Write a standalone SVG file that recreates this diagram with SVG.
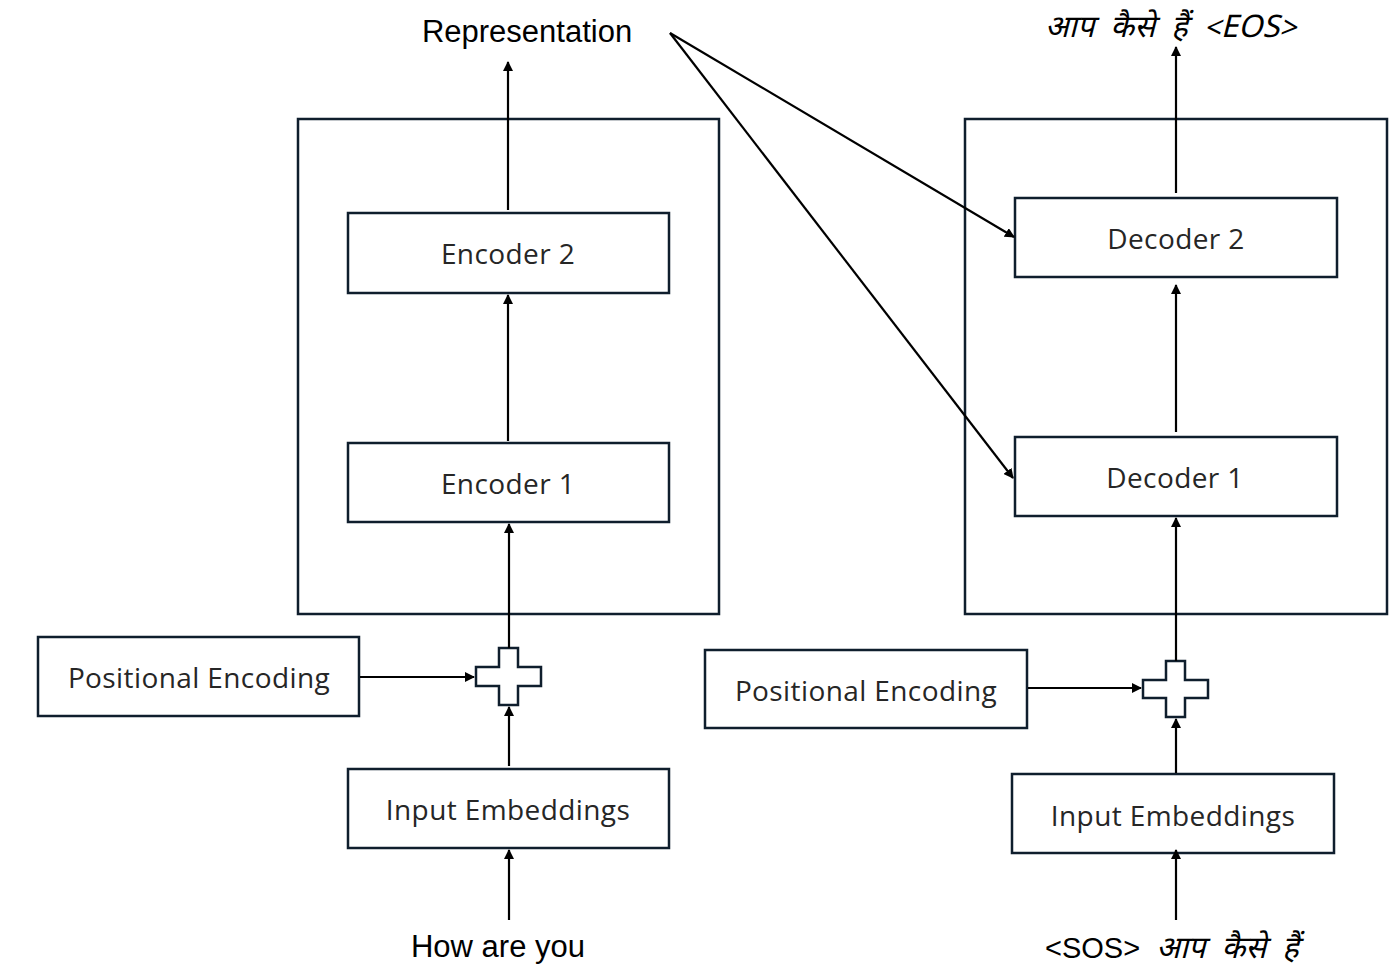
<svg xmlns="http://www.w3.org/2000/svg" width="1400" height="971" viewBox="0 0 1400 971">
<style>
.b{fill:#fff;stroke:#0f1e2d;stroke-width:2.5}
.t{font-family:"Open Sans","Noto Sans",sans-serif;font-size:28px;fill:#262626;text-anchor:middle;letter-spacing:0.4px}
.l{font-family:"Liberation Sans",Arial,sans-serif;font-size:31px;fill:#000;text-anchor:middle}
.h{font-family:"Noto Sans Devanagari","Noto Sans","Liberation Sans",sans-serif;font-style:italic;font-size:31px;fill:#000;word-spacing:8px}
.c{stroke:#000;stroke-width:2.2;fill:none;marker-end:url(#a)}
</style>
<defs><marker id="a" markerWidth="10" markerHeight="10" refX="9" refY="5" orient="auto" markerUnits="userSpaceOnUse"><path d="M0,0 L10,5 L0,10 Z" fill="#000"/></marker></defs>
<rect width="1400" height="971" fill="#fff"/>
<g id="encoder-block"><rect class="b" x="298" y="119" width="421" height="495"/></g>
<g id="decoder-block"><rect class="b" x="965" y="119" width="422" height="495"/></g>
<g id="encoder2"><rect class="b" x="348" y="213" width="321" height="80"/><text class="t" x="508" y="264">Encoder 2</text></g>
<g id="encoder1"><rect class="b" x="348" y="443" width="321" height="79"/><text class="t" x="508" y="494">Encoder 1</text></g>
<g id="posenc-left"><rect class="b" x="38" y="637" width="321" height="79"/><text class="t" x="199" y="688">Positional Encoding</text></g>
<g id="inemb-left"><rect class="b" x="348" y="769" width="321" height="79"/><text class="t" x="508" y="820">Input Embeddings</text></g>
<g id="plus-left"><path class="b" d="M499,648 H518 V667 H541 V686 H518 V705 H499 V686 H476 V667 H499 Z"/></g>
<g id="decoder2"><rect class="b" x="1015" y="198" width="322" height="79"/><text class="t" x="1176" y="249">Decoder 2</text></g>
<g id="decoder1"><rect class="b" x="1015" y="437" width="322" height="79"/><text class="t" x="1175" y="488">Decoder 1</text></g>
<g id="posenc-right"><rect class="b" x="705" y="650" width="322" height="78"/><text class="t" x="866" y="701">Positional Encoding</text></g>
<g id="inemb-right"><rect class="b" x="1012" y="774" width="322" height="79"/><text class="t" x="1173" y="826">Input Embeddings</text></g>
<g id="plus-right"><path class="b" d="M1166,661 H1185 V680 H1208 V698 H1185 V717 H1166 V698 H1143 V680 H1166 Z"/></g>
<g id="labels">
<text class="l" x="527" y="42">Representation</text>
<text class="l" x="498" y="957" font-size="29">How are you</text>
<text class="h" x="1045" y="37">आप कैसे हैं &lt;EOS&gt;</text>
<text class="h" x="1045" y="958"><tspan font-style="normal" font-family="Liberation Sans,sans-serif" font-size="29">&lt;SOS&gt;</tspan> आप कैसे हैं</text>
</g>
<g id="connectors">
<line class="c" x1="508" y1="210" x2="508" y2="62"/>
<line class="c" x1="508" y1="441" x2="508" y2="295"/>
<line class="c" x1="509" y1="648" x2="509" y2="524"/>
<line class="c" x1="360" y1="677" x2="474" y2="677"/>
<line class="c" x1="509" y1="766" x2="509" y2="707"/>
<line class="c" x1="509" y1="920" x2="509" y2="850"/>
<line class="c" x1="670" y1="33" x2="1014" y2="237"/>
<line class="c" x1="670" y1="33" x2="1013" y2="478"/>
<line class="c" x1="1176" y1="193" x2="1176" y2="47"/>
<line class="c" x1="1176" y1="432" x2="1176" y2="285"/>
<line class="c" x1="1176" y1="661" x2="1176" y2="518"/>
<line class="c" x1="1028" y1="688" x2="1141" y2="688"/>
<line class="c" x1="1176" y1="773" x2="1176" y2="719"/>
<line class="c" x1="1176" y1="920" x2="1176" y2="850"/>
</g>
</svg>
